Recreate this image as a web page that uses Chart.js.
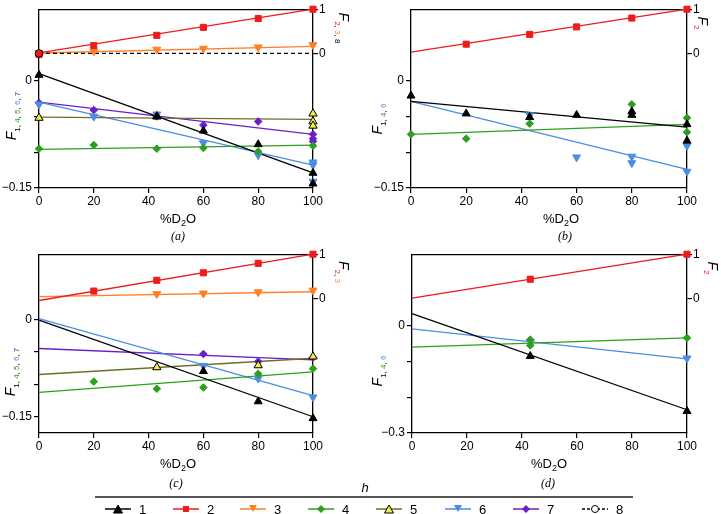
<!DOCTYPE html>
<html>
<head>
<meta charset="utf-8">
<script src="https://cdn.jsdelivr.net/npm/chart.js@4.4.1/dist/chart.umd.min.js"></script>
<style>
  body { margin: 0; background: #fff; font-family: "Liberation Sans", Arial, sans-serif; }
  #page { position: relative; width: 721px; height: 514px; overflow: hidden; }
  canvas { position: absolute; }
  .t { position: absolute; white-space: nowrap; transform: translate(-50%, -50%); color: #000; line-height: 1; }
  .xt { font-size: 13px; }
  .xt sub { font-size: 9px; }
  .pl { font-family: "Liberation Serif", serif; font-style: italic; font-size: 12px; }
  .yl { transform: translate(-50%, -50%) rotate(-90deg); font-size: 14px; }
  .yr { transform: translate(-50%, -50%) rotate(90deg); font-size: 14px; }
  .yl sub, .yr sub { font-size: 8px; font-style: normal; }
  #rule { position: absolute; left: 95px; top: 496px; width: 538px; height: 2px; background: #555; }
  .lg { position: absolute; top: 503px; height: 12px; }
  .lgt { position: absolute; top: 502px; font-size: 13px; }
</style>
</head>
<body>
<div id="page">
  <canvas id="pa" width="345" height="215" style="left:0;top:0"></canvas>
  <canvas id="pb" width="345" height="215" style="left:372px;top:0"></canvas>
  <canvas id="pc" width="345" height="215" style="left:0;top:245px"></canvas>
  <canvas id="pd" width="345" height="215" style="left:373px;top:245px"></canvas>

  <div class="t yl" style="left:13px;top:116px"><i>F</i><sub><span>1</span>, <span style="color:#2ca01c">4</span>, <span style="color:#6e6e2a">5</span>, <span style="color:#4b8de6">6</span>, <span style="color:#6a1fc8">7</span></sub></div>
  <div class="t yr" style="left:342px;top:28px"><i>F</i><sub><span style="color:#ee1c1c">2</span>, <span style="color:#ff7f27">3</span>, <span>8</span></sub></div>
  <div class="t xt" style="left:178px;top:220px">%D<sub>2</sub>O</div>
  <div class="t pl" style="left:178px;top:236px">(a)</div>

  <div class="t yl" style="left:379px;top:119px"><i>F</i><sub><span>1</span>, <span style="color:#2ca01c">4</span>, <span style="color:#4b8de6">6</span></sub></div>
  <div class="t yr" style="left:701px;top:23px"><i>F</i><sub><span style="color:#ee1c1c">2</span></sub></div>
  <div class="t xt" style="left:561px;top:220px">%D<sub>2</sub>O</div>
  <div class="t pl" style="left:565px;top:236px">(b)</div>

  <div class="t yl" style="left:12px;top:372px"><i>F</i><sub><span>1</span>, <span style="color:#2ca01c">4</span>, <span style="color:#6e6e2a">5</span>, <span style="color:#4b8de6">6</span>, <span style="color:#6a1fc8">7</span></sub></div>
  <div class="t yr" style="left:342px;top:272px"><i>F</i><sub><span style="color:#ee1c1c">2</span>, <span style="color:#ff7f27">3</span></sub></div>
  <div class="t xt" style="left:178px;top:465px">%D<sub>2</sub>O</div>
  <div class="t pl" style="left:176px;top:483px">(c)</div>

  <div class="t yl" style="left:379px;top:371px"><i>F</i><sub><span>1</span>, <span style="color:#2ca01c">4</span>, <span style="color:#4b8de6">6</span></sub></div>
  <div class="t yr" style="left:711px;top:268px"><i>F</i><sub><span style="color:#ee1c1c">2</span></sub></div>
  <div class="t xt" style="left:549px;top:465px">%D<sub>2</sub>O</div>
  <div class="t pl" style="left:548px;top:483px">(d)</div>

  <div class="t" style="left:365px;top:487px;font-style:italic;font-size:13px">h</div>
  <div id="rule"></div>
  <div id="legend"></div>
</div>

<script>
// tick values and labels
const xTicks = [0, 20, 40, 60, 80, 100];
const leftTicksABC = [-0.15, -0.1, -0.05, 0];
const leftLabelsABC = ['−0.15', '', '', '0'];
const leftTicksD = [-0.3, -0.2, -0.1, 0];
const leftLabelsD = ['−0.3', '', '', '0'];
const rightTicks = [0, 1];
const rightLabels = ['0', '1'];

// panel (a)
const a1x = [0, 43, 60, 80, 100, 100];
const a1y = [0.008, -0.05, -0.07, -0.089, -0.129, -0.144];
const a1fit = [0.01, -0.129];
const a2x = [0, 20, 43, 60, 80, 100];
const a2y = [-0.02, 0.18, 0.41, 0.59, 0.79, 1.0];
const a2fit = [0.015, 1.0];
const a3x = [0, 20, 43, 60, 80, 100];
const a3y = [0.015, 0.05, 0.09, 0.11, 0.14, 0.19];
const a3fit = [0.01, 0.16];
const a4x = [0, 20, 43, 60, 80, 100];
const a4y = [-0.095, -0.09, -0.095, -0.094, -0.099, -0.091];
const a4fit = [-0.096, -0.09];
const a5x = [0, 43, 100, 100, 100];
const a5y = [-0.052, -0.05, -0.046, -0.057, -0.063];
const a5fit = [-0.051, -0.054];
const a6x = [0, 20, 43, 60, 80, 100, 100, 100];
const a6y = [-0.033, -0.05, -0.047, -0.087, -0.104, -0.114, -0.118, -0.141];
const a6fit = [-0.03, -0.118];
const a7x = [0, 20, 43, 60, 80, 100, 100, 100];
const a7y = [-0.031, -0.041, -0.05, -0.062, -0.057, -0.075, -0.081, -0.085];
const a7fit = [-0.03, -0.075];
const a8x = [0];
const a8y = [0];
const a8fit = [0, 0];

// panel (b)
const b1x = [0, 20, 43, 60, 80, 80, 100, 100];
const b1y = [-0.021, -0.046, -0.051, -0.048, -0.043, -0.048, -0.061, -0.084];
const b1fit = [-0.029, -0.065];
const b2x = [20, 43, 60, 80, 100];
const b2y = [0.21, 0.43, 0.6, 0.8, 1.0];
const b2fit = [0.03, 1.0];
const b4x = [0, 20, 43, 80, 100, 100];
const b4y = [-0.075, -0.081, -0.06, -0.033, -0.052, -0.072];
const b4fit = [-0.075, -0.061];
const b6x = [43, 60, 80, 80, 100, 100];
const b6y = [-0.048, -0.107, -0.106, -0.115, -0.091, -0.127];
const b6fit = [-0.029, -0.124];

// panel (c)
const c1x = [60, 80, 100];
const c1y = [-0.08, -0.1265, -0.1525];
const c1fit = [-0.0015, -0.15];
const c2x = [20, 43, 60, 80, 100];
const c2y = [0.175, 0.416, 0.584, 0.796, 1.0];
const c2fit = [-0.036, 1.0];
const c3x = [43, 60, 80, 100];
const c3y = [0.11, 0.124, 0.153, 0.19];
const c3fit = [0.05, 0.16];
const c4x = [20, 43, 60, 80, 100];
const c4y = [-0.096, -0.107, -0.105, -0.084, -0.076];
const c4fit = [-0.1125, -0.081];
const c5x = [43, 80, 100];
const c5y = [-0.074, -0.071, -0.0575];
const c5fit = [-0.085, -0.06];
const c6x = [60, 80, 100];
const c6y = [-0.0715, -0.091, -0.12];
const c6fit = [0.001, -0.1175];
const c7x = [60, 80, 100];
const c7y = [-0.0535, -0.065, -0.059];
const c7fit = [-0.045, -0.0625];

// panel (d)
const d1x = [43, 100];
const d1y = [-0.085, -0.239];
const d1fit = [0.034, -0.235];
const d2x = [43, 100];
const d2y = [0.44, 1.0];
const d2fit = [0.015, 1.0];
const d4x = [43, 43, 100];
const d4y = [-0.039, -0.055, -0.034];
const d4fit = [-0.06, -0.034];
const d6x = [43, 100];
const d6y = [-0.045, -0.091];
const d6fit = [-0.009, -0.093];

const style = {
  1: { color: '#000000', fill: '#000000', border: '#000000', point: 'triangle', rot: 0, r: 4.6, axis: 'yL' },
  2: { color: '#ee1c1c', fill: '#ee1c1c', border: '#ee1c1c', point: 'rect', rot: 0, r: 4.3, axis: 'yR' },
  3: { color: '#ff7f27', fill: '#ff7f27', border: '#ff7f27', point: 'triangle', rot: 180, r: 4.6, axis: 'yR' },
  4: { color: '#2ca01c', fill: '#2ca01c', border: '#2ca01c', point: 'rectRot', rot: 0, r: 3.8, axis: 'yL' },
  5: { color: '#6e6e2a', fill: '#f0f03c', border: '#000000', point: 'triangle', rot: 0, r: 4.8, axis: 'yL' },
  6: { color: '#4b8de6', fill: '#4b8de6', border: '#4b8de6', point: 'triangle', rot: 180, r: 4.6, axis: 'yL' },
  7: { color: '#6a1fc8', fill: '#6a1fc8', border: '#6a1fc8', point: 'rectRot', rot: 0, r: 3.8, axis: 'yL' },
  8: { color: '#000000', fill: 'rgba(0,0,0,0)', border: '#000000', point: 'circle', rot: 0, r: 3.8, axis: 'yR', dash: [4, 3] }
};

function series(n, xs, ys, fit) {
  const s = style[n];
  return [
    {
      data: xs.map((x, i) => ({ x: x, y: ys[i] })),
      showLine: false,
      pointStyle: s.point,
      rotation: s.rot,
      pointRadius: s.r,
      backgroundColor: s.fill,
      borderColor: s.border,
      borderWidth: 1,
      yAxisID: s.axis,
      clip: false,
      order: 1
    },
    {
      data: [{ x: 0, y: fit[0] }, { x: 100, y: fit[1] }],
      showLine: true,
      pointRadius: 0,
      borderColor: s.color,
      borderWidth: 1.3,
      borderDash: s.dash || [],
      yAxisID: s.axis,
      clip: false,
      order: 2
    }
  ];
}

Chart.defaults.font.family = '"Liberation Sans", Arial, sans-serif';
Chart.defaults.font.size = 12;
Chart.defaults.color = '#000';

function panel(id, sets, lMin, lMax, lTicks, lLabels, rMin, rMax, rWidth) {
  const axisBits = {
    grid: { drawOnChartArea: false, drawTicks: true, tickLength: 5, color: '#000', lineWidth: 1.2 },
    border: { color: '#000', width: 1.3 }
  };
  return new Chart(document.getElementById(id), {
    type: 'scatter',
    data: { datasets: sets.flat() },
    options: {
      responsive: false,
      animation: false,
      layout: { padding: 0, autoPadding: false },
      plugins: { legend: { display: false }, tooltip: { enabled: false } },
      scales: {
        x: {
          type: 'linear', position: 'bottom', min: 0, max: 100,
          afterFit: s => { s.height = 27; },
          afterBuildTicks: s => { s.ticks = xTicks.map(v => ({ value: v })); },
          ticks: { padding: 1, maxRotation: 0, autoSkip: false },
          ...axisBits
        },
        xTop: {
          type: 'linear', position: 'top', min: 0, max: 100,
          afterFit: s => { s.height = 5; },
          ticks: { display: false },
          grid: { drawOnChartArea: false, drawTicks: false },
          border: { color: '#000', width: 1.3 }
        },
        yL: {
          type: 'linear', position: 'left', min: lMin, max: lMax,
          afterFit: s => { s.width = 39; },
          afterBuildTicks: s => { s.ticks = lTicks.map(v => ({ value: v })); },
          ticks: { padding: 2, autoSkip: false, callback: (v, i) => lLabels[i] },
          ...axisBits
        },
        yR: {
          type: 'linear', position: 'right', min: rMin, max: rMax,
          afterFit: s => { s.width = rWidth; },
          afterBuildTicks: s => { s.ticks = rightTicks.map(v => ({ value: v })); },
          ticks: { padding: 1, autoSkip: false, callback: (v, i) => rightLabels[i] },
          ...axisBits
        }
      }
    }
  });
}

panel('pa', [
  series(8, a8x, a8y, a8fit),
  series(1, a1x, a1y, a1fit),
  series(2, a2x, a2y, a2fit),
  series(3, a3x, a3y, a3fit),
  series(4, a4x, a4y, a4fit),
  series(5, a5x, a5y, a5fit),
  series(6, a6x, a6y, a6fit),
  series(7, a7x, a7y, a7fit)
], -0.15, 0.1, leftTicksABC, leftLabelsABC, -3.04, 1, 32);

panel('pb', [
  series(1, b1x, b1y, b1fit),
  series(2, b2x, b2y, b2fit),
  series(4, b4x, b4y, b4fit),
  series(6, b6x, b6y, b6fit)
], -0.15, 0.1, leftTicksABC, leftLabelsABC, -3.04, 1, 30);

panel('pc', [
  series(1, c1x, c1y, c1fit),
  series(2, c2x, c2y, c2fit),
  series(3, c3x, c3y, c3fit),
  series(4, c4x, c4y, c4fit),
  series(5, c5x, c5y, c5fit),
  series(6, c6x, c6y, c6fit),
  series(7, c7x, c7y, c7fit)
], -0.175, 0.1, leftTicksABC, leftLabelsABC, -3, 1, 32);

panel('pd', [
  series(1, d1x, d1y, d1fit),
  series(2, d2x, d2y, d2fit),
  series(4, d4x, d4y, d4fit),
  series(6, d6x, d6y, d6fit)
], -0.3, 0.2, leftTicksD, leftLabelsD, -3, 1, 31);

// legend row under the rule
const legendNames = ['1', '2', '3', '4', '5', '6', '7', '8'];
const legendLeft = [105, 173, 240, 308, 376, 445, 513, 582];

function marker(s) {
  const f = s.fill, b = s.border;
  if (s.point === 'rect') return `<rect x="10" y="3" width="6" height="6" fill="${f}"/>`;
  if (s.point === 'rectRot') return `<polygon points="13,2 17,6 13,10 9,6" fill="${f}"/>`;
  if (s.point === 'circle') return `<circle cx="13" cy="6" r="3.5" fill="#fff" stroke="${b}" stroke-width="1"/>`;
  if (s.rot === 180) return `<polygon points="9,2 17,2 13,9" fill="${f}"/>`;
  return `<polygon points="13,2 17.5,10 8.5,10" fill="${f}" stroke="${b}" stroke-width="1"/>`;
}

let html = '';
legendNames.forEach((name, i) => {
  const s = style[i + 1];
  const dash = s.dash ? 'stroke-dasharray="3,2"' : '';
  html += `<svg class="lg" style="left:${legendLeft[i]}px" width="26" height="12">` +
    `<line x1="0" y1="6" x2="26" y2="6" stroke="${s.color}" stroke-width="1.5" ${dash}/>${marker(s)}</svg>`;
  html += `<div class="lgt" style="left:${legendLeft[i] + 34}px">${name}</div>`;
});
document.getElementById('legend').innerHTML = html;
</script>
</body>
</html>
